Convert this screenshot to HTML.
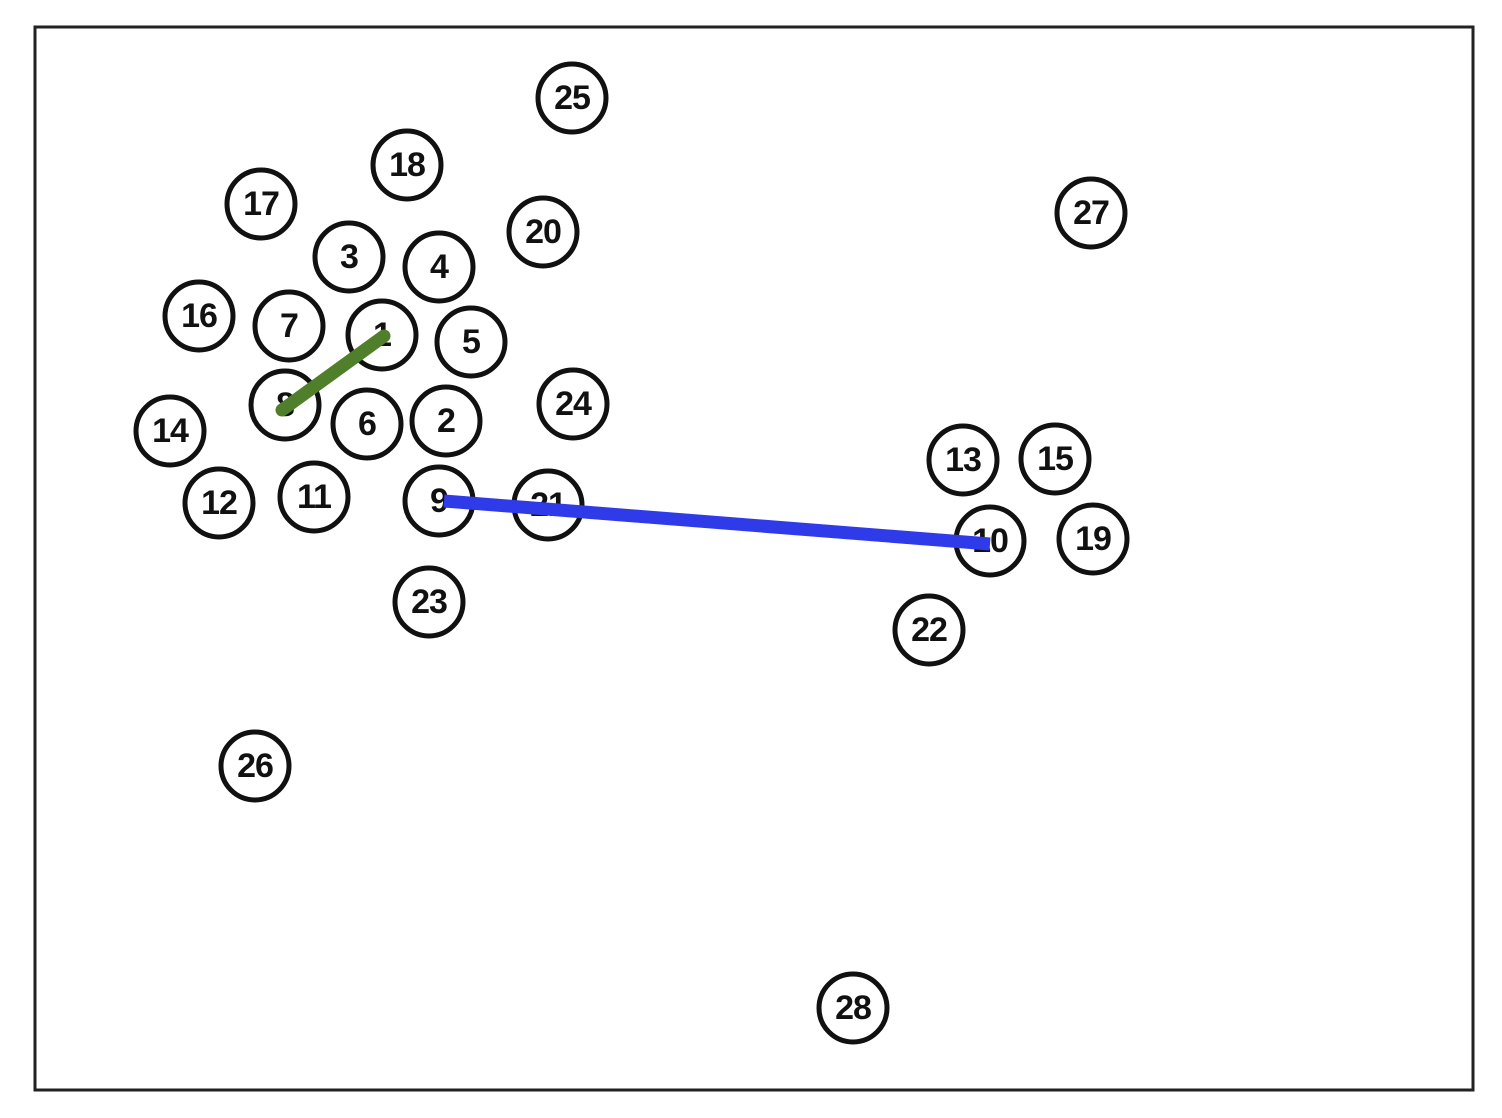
<!DOCTYPE html>
<html><head><meta charset="utf-8"><style>
html,body{margin:0;padding:0;background:#fff;}
svg{display:block;}
text{font-family:"Liberation Sans",sans-serif;font-size:34px;font-weight:bold;fill:#111;text-anchor:middle;dominant-baseline:central;letter-spacing:-1px;}
</style></head><body>
<svg width="1502" height="1118" viewBox="0 0 1502 1118" xmlns="http://www.w3.org/2000/svg">
<rect x="35" y="27" width="1438" height="1063" fill="#fff" stroke="#222" stroke-width="3"/>
<g fill="none" stroke="#111" stroke-width="5">
<circle cx="572" cy="98" r="34"/><circle cx="407" cy="165" r="34"/><circle cx="261" cy="204" r="34"/>
<circle cx="543" cy="232" r="34"/><circle cx="1091" cy="213" r="34"/><circle cx="349" cy="257" r="34"/>
<circle cx="439" cy="267" r="34"/><circle cx="199" cy="316" r="34"/><circle cx="289" cy="326" r="34"/>
<circle cx="382" cy="335" r="34"/><circle cx="471" cy="342" r="34"/><circle cx="573" cy="404" r="34"/>
<circle cx="285" cy="405" r="34"/><circle cx="170" cy="431" r="34"/><circle cx="367" cy="424" r="34"/>
<circle cx="446" cy="421" r="34"/><circle cx="963" cy="460" r="34"/><circle cx="1055" cy="459" r="34"/>
<circle cx="219" cy="503" r="34"/><circle cx="314" cy="497" r="34"/><circle cx="439" cy="501" r="34"/>
<circle cx="548" cy="505" r="34"/><circle cx="990" cy="541" r="34"/><circle cx="1093" cy="539" r="34"/>
<circle cx="429" cy="602" r="34"/><circle cx="929" cy="630" r="34"/><circle cx="255" cy="766" r="34"/>
<circle cx="853" cy="1008" r="34"/>
</g>
<g>
<text x="572" y="98">25</text><text x="407" y="165">18</text><text x="261" y="204">17</text>
<text x="543" y="232">20</text><text x="1091" y="213">27</text><text x="349" y="257">3</text>
<text x="439" y="267">4</text><text x="199" y="316">16</text><text x="289" y="326">7</text>
<text x="382" y="335">1</text><text x="471" y="342">5</text><text x="573" y="404">24</text>
<text x="285" y="405">8</text><text x="170" y="431">14</text><text x="367" y="424">6</text>
<text x="446" y="421">2</text><text x="963" y="460">13</text><text x="1055" y="459">15</text>
<text x="219" y="503">12</text><text x="314" y="497">11</text><text x="439" y="501">9</text>
<text x="548" y="505">21</text><text x="990" y="541">10</text><text x="1093" y="539">19</text>
<text x="429" y="602">23</text><text x="929" y="630">22</text><text x="255" y="766">26</text>
<text x="853" y="1008">28</text>
</g>
<line x1="282" y1="410" x2="384" y2="336" stroke="#4f7f2a" stroke-width="13" stroke-linecap="round"/>
<line x1="444" y1="501" x2="990" y2="544" stroke="#2f3be8" stroke-width="13" stroke-linecap="butt"/>
</svg>
</body></html>
